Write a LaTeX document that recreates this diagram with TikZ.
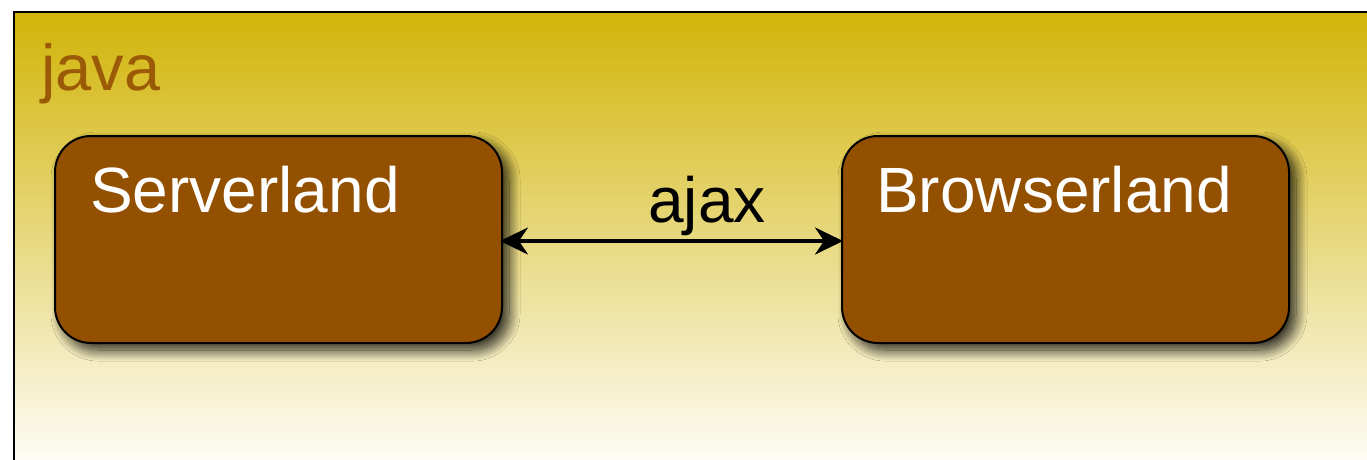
\documentclass[tikz,border=0pt]{standalone}
\usepackage{fontspec}
\setmainfont{Liberation Sans}
\usetikzlibrary{shadows.blur,arrows.meta}
\definecolor{gold}{RGB}{210,180,8}
\definecolor{boxbrown}{RGB}{146,80,0}
\definecolor{javabrown}{RGB}{155,90,5}
\tikzset{
  landbox/.style={draw=black, line width=2pt, fill=boxbrown, rounded corners=36pt,
    minimum width=447pt, minimum height=207pt, inner sep=0pt,
    blur shadow={shadow xshift=7pt, shadow yshift=-7pt, shadow blur radius=11pt, shadow blur steps=20, shadow opacity=85}},
  landlabel/.style={anchor=base west, inner sep=0pt, text=white, font=\fontsize{64}{70}\selectfont},
  biarrow/.style={line width=3.5pt, {Stealth[length=28pt,width=27pt,inset=9pt]}-{Stealth[length=28pt,width=27pt,inset=9pt]}, shorten <=-3pt, shorten >=-2pt}
}
\begin{document}
\begin{tikzpicture}[x=1pt,y=-1pt]
\useasboundingbox (0,0) rectangle (1367,460);
\shade[top color=gold, bottom color=white] (14,12) rectangle (1385,478);
\draw[line width=2pt] (14,478) -- (14,12) -- (1385,12);
\node[anchor=base west, inner sep=0pt, text=javabrown, font=\fontsize{65}{70}\selectfont] (java) at (41,90) {java};
\node[landbox] (serv) at (278.5,239.5) {};
\node[landbox] (brow) at (1065.5,239.5) {};
\node[landlabel] (servt) at (90,212) {Serverland};
\node[landlabel] (browt) at (876,212) {Browserland};
\draw[biarrow] ([yshift=-1.5pt]serv.east) -- ([yshift=-1.5pt]brow.west);
\node[anchor=base west, inner sep=0pt, font=\fontsize{64}{70}\selectfont] (ajax) at (648,222) {ajax};
\end{tikzpicture}
\end{document}
